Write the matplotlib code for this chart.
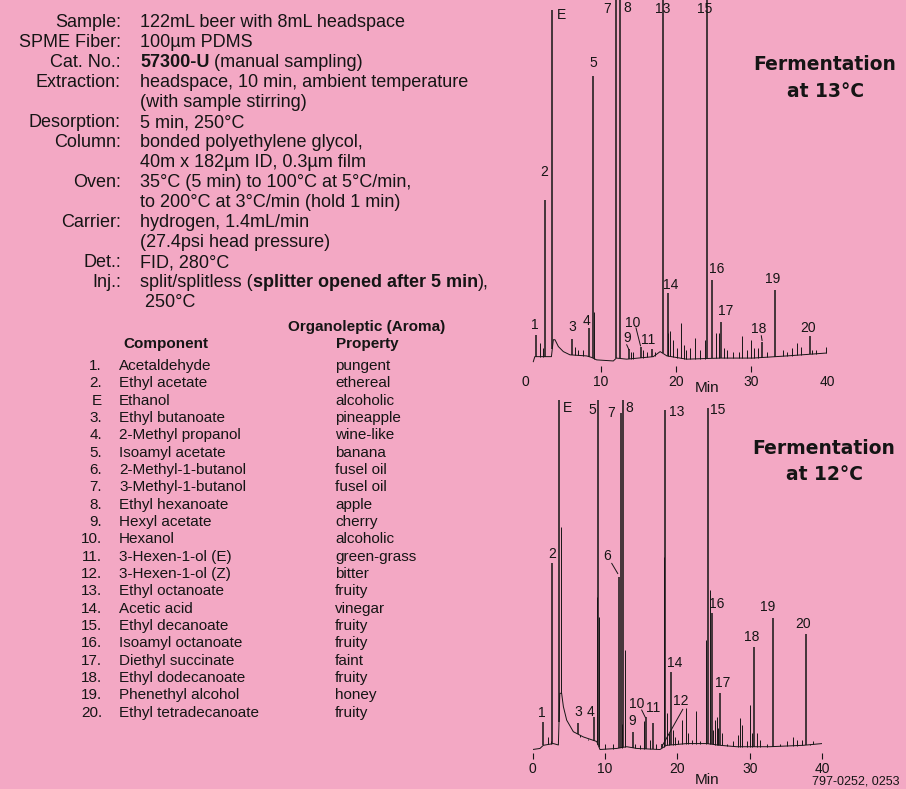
import matplotlib
matplotlib.use("Agg")
import matplotlib.pyplot as plt
import numpy as np

plt.rcParams['font.family'] = ['Liberation Sans', 'DejaVu Sans']

W, H = 906, 789
PINK = '#F3A8C4'
INK = '#151515'

# ---------------- conditions text ----------------
setup_labels = ['Sample:', 'SPME Fiber:', 'Cat. No.:', 'Extraction:', '', 'Desorption:',
                'Column:', '', 'Oven:', '', 'Carrier:', '', 'Det.:', 'Inj.:', '']
setup_values = [
    [('122mL beer with 8mL headspace', False)],
    [('100µm PDMS', False)],
    [('57300-U', True), (' (manual sampling)', False)],
    [('headspace, 10 min, ambient temperature', False)],
    [('(with sample stirring)', False)],
    [('5 min, 250°C', False)],
    [('bonded polyethylene glycol,', False)],
    [('40m x 182µm ID, 0.3µm film', False)],
    [('35°C (5 min) to 100°C at 5°C/min,', False)],
    [('to 200°C at 3°C/min (hold 1 min)', False)],
    [('hydrogen, 1.4mL/min', False)],
    [('(27.4psi head pressure)', False)],
    [('FID, 280°C', False)],
    [('split/splitless (', False), ('splitter opened after 5 min', True), ('),', False)],
    [(' 250°C', False)],
]

# ---------------- component table ----------------
comp_ids = ['1.', '2.', 'E', '3.', '4.', '5.', '6.', '7.', '8.', '9.', '10.', '11.', '12.',
            '13.', '14.', '15.', '16.', '17.', '18.', '19.', '20.']
comp_names = ['Acetaldehyde', 'Ethyl acetate', 'Ethanol', 'Ethyl butanoate', '2-Methyl propanol',
              'Isoamyl acetate', '2-Methyl-1-butanol', '3-Methyl-1-butanol', 'Ethyl hexanoate',
              'Hexyl acetate', 'Hexanol', '3-Hexen-1-ol (E)', '3-Hexen-1-ol (Z)', 'Ethyl octanoate',
              'Acetic acid', 'Ethyl decanoate', 'Isoamyl octanoate', 'Diethyl succinate',
              'Ethyl dodecanoate', 'Phenethyl alcohol', 'Ethyl tetradecanoate']
comp_aroma = ['pungent', 'ethereal', 'alcoholic', 'pineapple', 'wine-like', 'banana', 'fusel oil',
              'fusel oil', 'apple', 'cherry', 'alcoholic', 'green-grass', 'bitter', 'fruity',
              'vinegar', 'fruity', 'fruity', 'faint', 'fruity', 'honey', 'fruity']

# ---------------- chromatogram 13°C (top) ----------------
top_names = ['1', '2', 'E', '3', '4', '5', '7', '8', '9', '10', '11', '13', '14', '15', '16', '17',
             '18', '19', '20']
top_peak_t = [1.41, 2.65, 3.62, 6.18, 8.48, 9.05, 12.05, 12.58, 13.77, 15.32, 16.8, 18.23, 18.9,
              24.1, 24.8, 25.96, 31.4, 33.1, 37.7]
top_peak_h = [6.9, 44.4, 97.2, 5.8, 8.8, 79.0, 110, 110, 3.0, 3.5, 3.0, 110, 18.5, 110, 22.2,
              10.4, 5.1, 19.4, 6.5]
top_minor_t = [1.99, 2.34, 6.62, 7.06, 7.73, 9.14, 13.99, 14.35, 15.6, 16.1, 17.2, 19.0, 19.2,
               19.56, 20.1, 20.6, 21.0, 21.3, 21.9, 22.5, 23.2, 23.84, 25.25, 25.7, 26.3, 26.7,
               27.6, 28.3, 28.8, 29.4, 29.9, 30.3, 30.8, 32.0, 34.2, 34.7, 35.3, 36.0, 36.5,
               38.0, 38.6, 39.9]
top_minor_h = [4.6, 3.2, 3.7, 2.8, 2.8, 13.4, 2.3, 2.3, 2.8, 2.3, 2.3, 7.4, 7.9, 5.6, 3.2, 10.2,
               4.2, 2.8, 3.2, 6.0, 2.8, 5.6, 7.4, 7.4, 3.2, 2.8, 2.3, 2.3, 6.5, 2.8, 5.6, 3.2,
               3.2, 2.3, 2.8, 2.3, 3.2, 4.6, 3.7, 2.8, 2.8, 3.7]
top_base_t = [1.1, 1.3, 3.5, 3.75, 3.97, 4.42, 5.08, 5.96, 8.17, 8.8, 9.49, 11.7, 12.1, 13.47,
              17.0, 17.9, 18.8, 21.4, 25.8, 30.2, 34.7, 39.9]
top_base_h = [-0.5, 0.9, 0.9, 5.6, 5.6, 3.7, 2.3, 1.4, 1.1, 0.7, 0.0, -0.3, 0.5, 0.2, 0.9, 2.3,
              1.1, 0.2, 0.5, 0.5, 1.1, 1.9]

# ---------------- chromatogram 12°C (bottom) ----------------
bot_names = ['1', '2', 'E', '3', '4', '5', '6', '7', '8', '9', '10', '11', '12', '13', '14', '15',
             '16', '17', '18', '19', '20']
bot_peak_t = [1.47, 2.72, 3.64, 6.22, 8.48, 9.03, 12.0, 12.17, 12.5, 13.8, 15.6, 16.7, 17.84,
              18.34, 19.08, 24.2, 24.84, 25.9, 30.65, 33.2, 37.74]
bot_peak_h = [7.8, 53.2, 110, 7.5, 9.3, 110, 49.4, 96.2, 110, 5.0, 9.3, 7.4, 1.5, 97.1, 22.2,
              97.6, 38.9, 16.1, 29.3, 37.7, 33.1]
bot_minor_t = [2.17, 2.49, 3.92, 6.54, 7.7, 8.89, 9.17, 10.0, 11.15, 12.3, 12.76, 14.15, 14.84,
               15.4, 16.2, 17.1, 18.16, 18.5, 18.85, 19.35, 19.7, 20.14, 20.7, 21.15, 21.5, 22.0,
               22.6, 23.1, 23.96, 24.5, 24.98, 25.2, 25.44, 25.67, 26.13, 26.8, 27.7, 28.4,
               28.66, 28.9, 29.6, 30.05, 30.37, 31.06, 31.4, 32.35, 34.2, 35.1, 36.0, 36.5,
               37.2, 38.3, 38.8, 40.0]
bot_minor_h = [3.5, 2.2, 63.7, 3.5, 2.6, 43.6, 37.9, 1.6, 1.6, 7.3, 28.4, 1.6, 1.1, 8.0, 2.6,
               1.6, 55.0, 10.4, 4.5, 5.4, 3.5, 2.6, 8.3, 11.7, 4.5, 2.6, 10.8, 2.2, 31.2, 45.6,
               5.4, 8.3, 9.3, 6.0, 4.5, 1.6, 2.2, 4.1, 8.8, 6.9, 2.2, 12.6, 4.5, 4.5, 2.6, 1.6,
               1.6, 2.2, 3.5, 2.6, 2.6, 1.6, 2.2, 3.05]
bot_base_t = [0.0, 1.0, 1.47, 2.86, 3.55, 3.75, 4.0, 4.24, 4.7, 5.62, 7.0, 8.85, 9.3, 11.6, 13.0,
              14.4, 17.6, 18.5, 21.3, 24.05, 25.9, 28.2, 32.8, 37.4, 40.0]
bot_base_h = [-0.1, 0.2, 1.1, 1.6, 1.2, 16.0, 16.0, 12.2, 8.3, 5.0, 3.5, 2.2, -0.1, 0.2, 0.7,
              0.2, -0.1, 1.1, 1.6, 1.6, 1.1, 0.7, 0.7, 1.1, 1.6]

# label placement (layout only)
top_lab_xy = [(1.32, 9.7), (2.5, 52.2), (4.77, 95.8), (6.2, 9.2), (8.2, 10.8), (9.0, 82.5),
              (10.86, 97.6), (13.5, 97.8), (13.5, 6.1), (14.2, 10.3), (16.3, 5.6), (18.3, 97.6),
              (19.3, 20.8), (23.8, 97.6), (25.4, 25.3), (26.6, 13.6), (30.9, 8.6), (32.8, 22.5),
              (37.5, 8.9)]
top_leaders = [((13.47, 4.2), (13.77, 2.8)), ((14.7, 8.9), (15.3, 3.9)),
               ((31.3, 6.7), (31.4, 5.4))]
bot_lab_xy = [(1.29, 10.3), (2.67, 55.9), (4.88, 97.7), (6.27, 10.6), (8.06, 10.6), (8.2, 97.1),
              (10.28, 55.3), (10.83, 96.3), (13.3, 97.7), (13.7, 8.0), (14.4, 12.9),
              (16.6, 11.7), (20.5, 13.8), (19.96, 96.6), (19.7, 24.6), (25.6, 97.1),
              (25.5, 41.5), (26.2, 18.9), (30.3, 32.1), (32.5, 40.7), (37.4, 35.8)]
bot_leaders = [((10.93, 53.2), (11.76, 50.3)), ((15.07, 11.2), (15.57, 9.1)),
               ((20.75, 11.4), (17.84, 0.7))]

fig = plt.figure(figsize=(W / 100, H / 100), dpi=100, facecolor=PINK)
renderer = fig.canvas.get_renderer()


def ptext(x, y, s, **kw):
    # place text with pixel coords measured from the top-left corner
    return fig.text(x / W, 1 - y / H, s, color=INK, **kw)


# conditions block
for i, (lab, segs) in enumerate(zip(setup_labels, setup_values)):
    yb = 27 + 20 * i
    if lab:
        ptext(121, yb, lab, ha='right', va='baseline', fontsize=13)
    x = 140
    for s, bold in segs:
        t = ptext(x, yb, s, ha='left', va='baseline', fontsize=13,
                  fontweight='bold' if bold else 'normal')
        x = t.get_window_extent(renderer).x1

# table
ptext(367, 331, 'Organoleptic (Aroma)', ha='center', va='baseline', fontsize=11, fontweight='bold')
ptext(166, 348, 'Component', ha='center', va='baseline', fontsize=11, fontweight='bold')
ptext(367, 348, 'Property', ha='center', va='baseline', fontsize=11, fontweight='bold')
for i in range(len(comp_ids)):
    yb = 370 + 17.33 * i
    ptext(102, yb, comp_ids[i], ha='right', va='baseline', fontsize=11)
    ptext(119, yb, comp_names[i], ha='left', va='baseline', fontsize=11)
    ptext(335, yb, comp_aroma[i], ha='left', va='baseline', fontsize=11)


def chrom(rect, ylo, base_t, base_h, pk_t, pk_h, mn_t, mn_h, names, lab_xy, leaders, hide_end_ticks):
    ax = fig.add_axes(rect)
    ax.set_facecolor('none')
    ax.set_xlim(0, 40)
    ax.set_ylim(ylo, 100)
    for sp in ax.spines.values():
        sp.set_visible(False)
    ax.set_yticks([])
    ax.set_xticks([0, 10, 20, 30, 40])
    ax.tick_params(axis='x', direction='out', length=4.5, width=0.8, pad=2,
                   labelsize=10, colors=INK)
    if hide_end_ticks:
        for k in (0, 4):
            ax.xaxis.get_major_ticks()[k].tick1line.set_visible(False)
    ax.plot(base_t, base_h, color=INK, lw=0.7)
    mb = np.interp(mn_t, base_t, base_h)
    ax.vlines(mn_t, mb, mn_h, color=INK, lw=0.7)
    pb = np.interp(pk_t, base_t, base_h)
    ax.vlines(pk_t, pb, pk_h, color=INK, lw=1.1)
    for nm, (lx, ly) in zip(names, lab_xy):
        ax.text(lx, ly, nm, ha='center', va='center', fontsize=10, color=INK, clip_on=False)
    for (x0, y0), (x1, y1) in leaders:
        ax.plot([x0, x1], [y0, y1], color=INK, lw=0.7)
    return ax


chrom([525 / W, 1 - 366 / H, 302 / W, 366 / H], -1.7, top_base_t, top_base_h, top_peak_t,
      top_peak_h, top_minor_t, top_minor_h, top_names, top_lab_xy, top_leaders, True)
chrom([532.7 / W, 1 - 753 / H, 289.3 / W, 353 / H], -1.1, bot_base_t, bot_base_h, bot_peak_t,
      bot_peak_h, bot_minor_t, bot_minor_h, bot_names, bot_lab_xy, bot_leaders, False)

ptext(707, 388, 'Min', ha='center', va='center', fontsize=11)
ptext(707, 780, 'Min', ha='center', va='center', fontsize=11)

title_kw = dict(ha='center', va='baseline', fontsize=13.5, fontweight='bold',
                family='DejaVu Sans')
ptext(825, 70, 'Fermentation', **title_kw)
ptext(826, 97, 'at 13°C', **title_kw)
ptext(824, 454, 'Fermentation', **title_kw)
ptext(825, 480, 'at 12°C', **title_kw)

ptext(900, 785, '797-0252, 0253', ha='right', va='baseline', fontsize=9)

fig.savefig('out.png', dpi=100, facecolor=PINK)
